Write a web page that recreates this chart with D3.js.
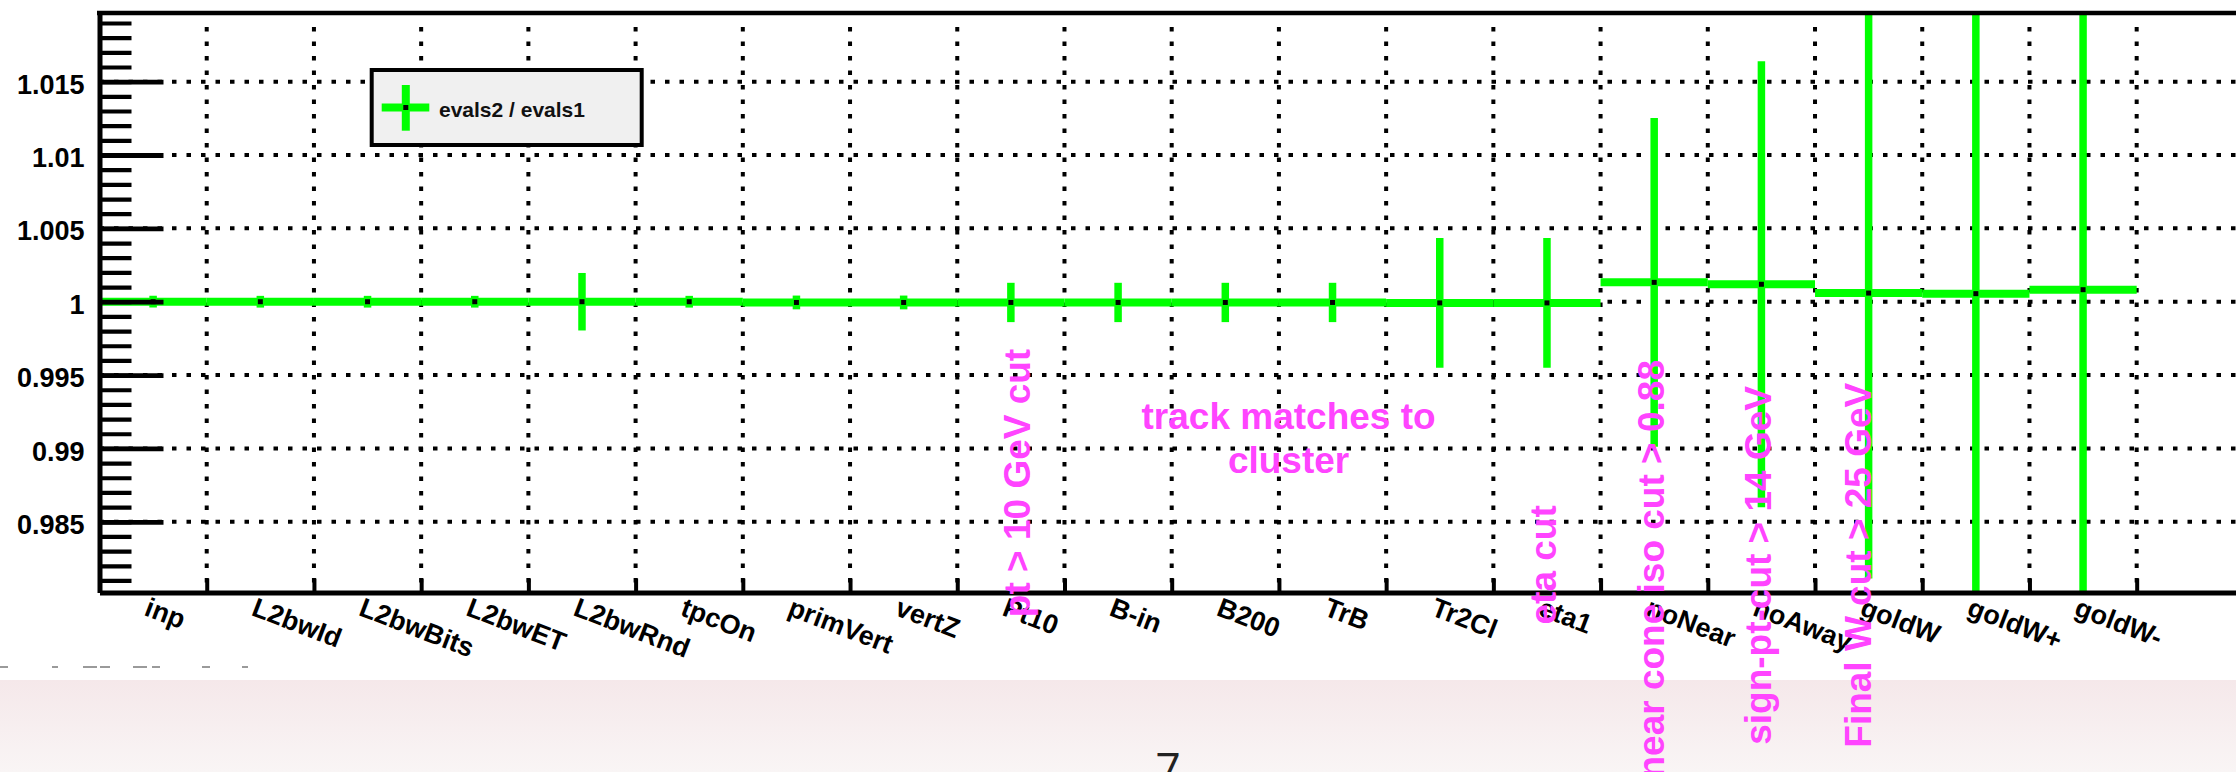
<!DOCTYPE html>
<html><head><meta charset="utf-8">
<script src="https://cdn.jsdelivr.net/npm/d3@7"></script>
<style>
body{margin:0;background:#fff;overflow:hidden;}
svg{display:block;}
text{font-family:"Liberation Sans",Arial,Helvetica,sans-serif;}
</style>
</head><body>
<svg id="c" width="2236" height="772"></svg>
<script>
// ---------------- data ----------------
const categories = ["inp","L2bwId","L2bwBits","L2bwET","L2bwRnd","tpcOn","primVert","vertZ","Pt10","B-in","B200","TrB","Tr2Cl","eta1","noNear","noAway","goldW","goldW+","goldW-"];
const ratio    = [1.0000,1.0000,1.0000,1.0000,1.0000,1.0000,0.99995,0.99995,0.99995,0.99995,0.99995,0.99995,0.99992,0.99992,1.00132,1.00119,1.00059,1.00055,1.00082];
const ratioErr = [0.0004,0.0004,0.0004,0.0004,0.00196,0.0004,0.00047,0.00047,0.00134,0.00134,0.00134,0.00134,0.00442,0.00442,0.0112,0.0152,0.01945,0.03,0.03];
const yMajorTicks  = [0.985,0.99,0.995,1,1.005,1.01,1.015];
const yMajorLabels = ["0.985","0.99","0.995","1","1.005","1.01","1.015"];
const nBins = 20;
const yRange = [0.98018, 1.01968];
const legendLabel = "evals2 / evals1";
// annotations in user coordinates (bin units, ratio value)
const annotations = [
  {text:"pt > 10 GeV cut",          bx:8.68,  v:0.9785, rot:-90, anchor:"start"},
  {text:"track matches to",         bx:11.09, v:0.9913, rot:0,   anchor:"middle"},
  {text:"cluster",                  bx:11.09, v:0.9883, rot:0,   anchor:"middle"},
  {text:"eta cut",                  bx:13.58, v:0.9780, rot:-90, anchor:"start"},
  {text:"near cone iso cut > 0.88", bx:14.59, v:0.9675, rot:-90, anchor:"start"},
  {text:"sign-pt-cut > 14 GeV",     bx:15.59, v:0.9698, rot:-90, anchor:"start"},
  {text:"Final W cut > 25 GeV",     bx:16.52, v:0.9696, rot:-90, anchor:"start"}
];
const pageNumber = "7";

// ---------------- layout ----------------
const W = 2236, H = 772;
const frame = {left:99.5, top:13, bottom:592.5, right:99.5 + 20*107.22};
const svg = d3.select("#c");

const x = d3.scaleLinear().domain([0, nBins]).range([frame.left, frame.right]);
const y = d3.scaleLinear().domain(yRange).range([frame.bottom, frame.top]);

// slide background bits
const defs = svg.append("defs");
const grad = defs.append("linearGradient").attr("id","band").attr("x1",0).attr("y1",0).attr("x2",0).attr("y2",1);
grad.append("stop").attr("offset","0%").attr("stop-color","#f5e8ea");
grad.append("stop").attr("offset","100%").attr("stop-color","#f9f5f5");
svg.append("rect").attr("x",0).attr("y",680).attr("width",W).attr("height",H-680).attr("fill","url(#band)");
const dashSegs = [[0,8],[52,58],[83,97],[100,110],[133,147],[152,160],[202,210],[242,248]];
svg.append("g").selectAll("rect").data(dashSegs).join("rect")
  .attr("x",d=>d[0]).attr("y",666).attr("width",d=>d[1]-d[0]).attr("height",2).attr("fill","#9a9a9a");
svg.append("text").attr("x",1168).attr("y",784).attr("text-anchor","middle")
  .style("font-family","'Open Sans', Lato, sans-serif").style("font-weight","400")
  .style("font-size","44px").attr("fill","#222").text(pageNumber);

defs.append("clipPath").attr("id","plotclip").append("rect")
  .attr("x",frame.left).attr("y",frame.top).attr("width",frame.right-frame.left).attr("height",frame.bottom-frame.top);

// grid
const grid = svg.append("g").attr("stroke","#000").attr("stroke-width",4).attr("stroke-dasharray","4.5 10");
grid.selectAll("line.h").data(yMajorTicks).join("line").attr("class","h")
  .attr("x1",frame.left).attr("x2",W).attr("y1",d=>y(d)).attr("y2",d=>y(d));
const edges = d3.range(1, nBins);
grid.selectAll("line.v").data(edges).join("line").attr("class","v")
  .attr("x1",d=>x(d)).attr("x2",d=>x(d)).attr("y1",frame.top+14).attr("y2",frame.bottom);

// data
const pts = categories.map((c,i)=>({c, i, v:ratio[i], e:ratioErr[i]}));
const dg = svg.append("g").attr("clip-path","url(#plotclip)");
dg.selectAll("line.hx").data(pts).join("line").attr("class","hx")
  .attr("x1",d=>x(d.i)).attr("x2",d=>x(d.i+1)).attr("y1",d=>y(d.v)).attr("y2",d=>y(d.v))
  .attr("stroke","#00ff00").attr("stroke-width",8);
dg.selectAll("line.ey").data(pts).join("line").attr("class","ey")
  .attr("x1",d=>x(d.i+0.5)).attr("x2",d=>x(d.i+0.5)).attr("y1",d=>y(d.v+d.e)).attr("y2",d=>y(d.v-d.e))
  .attr("stroke","#00ff00").attr("stroke-width",7.5);
dg.selectAll("rect.m").data(pts).join("rect").attr("class","m")
  .attr("x",d=>x(d.i+0.5)-2.5).attr("y",d=>y(d.v)-2.5).attr("width",5).attr("height",5).attr("fill","#000");

// axes
const yMinor = svg.append("g").attr("transform",`translate(${frame.left},0)`)
  .call(d3.axisLeft(y).ticks(40).tickSizeInner(-32).tickSizeOuter(0).tickFormat(""));
yMinor.select(".domain").remove();
yMinor.selectAll("line").attr("stroke","#000").attr("stroke-width",4.2);

const yAx = svg.append("g").attr("transform",`translate(${frame.left},0)`)
  .call(d3.axisLeft(y).tickValues(yMajorTicks).tickSizeInner(-64).tickSizeOuter(0).tickPadding(15)
        .tickFormat((d,i)=>yMajorLabels[i]));
yAx.select(".domain").attr("stroke","#000").attr("stroke-width",5);
yAx.selectAll("line").attr("stroke","#000").attr("stroke-width",4.8);
yAx.selectAll("text").attr("dy","0.43em").attr("fill","#000")
  .style("font-size","27px").style("font-weight","bold").style("font-family","'Liberation Sans',Arial,sans-serif");

const xAx = svg.append("g").attr("transform",`translate(0,${frame.bottom})`)
  .call(d3.axisBottom(x).tickValues(edges).tickSizeInner(-14).tickSizeOuter(0).tickFormat(""));
xAx.select(".domain").attr("stroke","#000").attr("stroke-width",5);
xAx.selectAll("line").attr("stroke","#000").attr("stroke-width",4);

// top frame line
svg.append("line").attr("x1",frame.left-2.5).attr("x2",W).attr("y1",frame.top).attr("y2",frame.top)
  .attr("stroke","#000").attr("stroke-width",4.5);

// x labels
svg.append("g").selectAll("text").data(pts).join("text")
  .attr("transform",d=>`translate(${x(d.i+0.5)-3},${frame.bottom+4}) rotate(21)`)
  .attr("x",0).attr("y",19.5)
  .style("font-size","27px").style("font-weight","bold").attr("fill","#000")
  .text(d=>d.c);

// legend
const lg = svg.append("g");
lg.append("rect").attr("x",371.7).attr("y",70).attr("width",270).attr("height",75)
  .attr("fill","#f0f0f0").attr("stroke","#000").attr("stroke-width",4);
lg.append("line").attr("x1",381.7).attr("x2",429.3).attr("y1",107.5).attr("y2",107.5).attr("stroke","#00ff00").attr("stroke-width",8);
lg.append("line").attr("x1",405.8).attr("x2",405.8).attr("y1",85).attr("y2",130.7).attr("stroke","#00ff00").attr("stroke-width",8);
lg.append("rect").attr("x",403.3).attr("y",105).attr("width",5).attr("height",5).attr("fill","#000");
lg.append("text").attr("x",439).attr("y",117).style("font-size","21px").style("font-weight","bold")
  .attr("fill","#111").text(legendLabel);

// annotations
svg.append("g").selectAll("text").data(annotations).join("text")
  .attr("transform",d=>`translate(${x(d.bx)},${y(d.v)}) rotate(${d.rot})`)
  .attr("text-anchor",d=>d.anchor)
  .style("font-size","37px").style("font-weight","bold").attr("fill","#ff44ff")
  .text(d=>d.text);
</script>
</body></html>
